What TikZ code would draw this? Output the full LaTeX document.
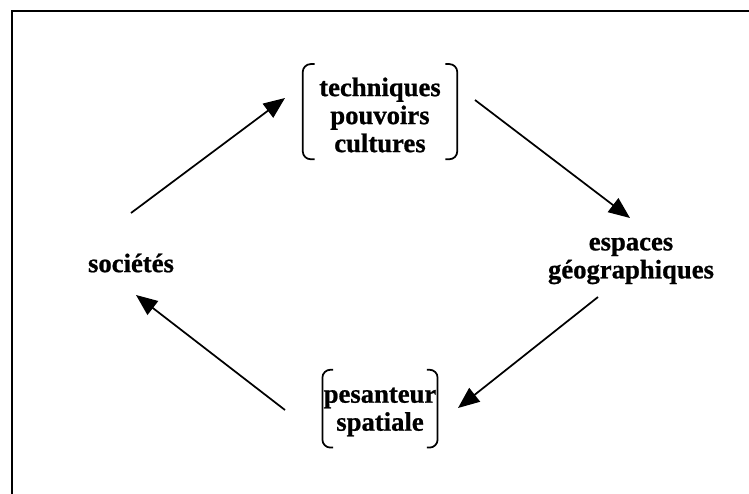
\documentclass[tikz,border=0pt]{standalone}
\usepackage{fontspec}
\setmainfont{Liberation Serif}[BoldFeatures={FakeBold=0.8}]
\usepackage{tikz}
\usetikzlibrary{arrows.meta}

\tikzset{
  terme/.style={font=\bfseries\fontsize{20}{21}\selectfont, align=center, inner sep=0pt},
  fleche/.style={line width=1.3pt, -{Triangle[length=16pt,width=13pt]}},
  crochet/.style={line width=1.3pt, rounded corners=6pt}
}

\begin{document}
\begin{tikzpicture}[x=0.75pt,y=-0.75pt]
            \useasboundingbox (0,0) rectangle (749,493);
            \draw [line width=1.5pt] (12,500)--(12,11)--(760,11);
            % les termes
            \node[terme, minimum width=115.5pt, minimum height=71pt] (tech) at (380,115) {techniques\\pouvoirs\\cultures};
            \node[terme] (esp) at (631,261) {espaces\\géographiques};
            \node[terme, minimum width=86pt, minimum height=58pt] (pes) at (380,412) {pesanteur\\spatiale};
            \node[terme] (soc) at (131,263) {sociétés};
            % crochets (un peu plus haut que le texte)
            \draw [crochet] ([shift={(9pt,2.5pt)}]tech.north west)--([yshift=2.5pt]tech.north west)--([yshift=2.5pt]tech.south west)--([shift={(9pt,2.5pt)}]tech.south west);
            \draw [crochet] ([shift={(-9pt,2.5pt)}]tech.north east)--([yshift=2.5pt]tech.north east)--([yshift=2.5pt]tech.south east)--([shift={(-9pt,2.5pt)}]tech.south east);
            \draw [crochet] ([shift={(8pt,2.5pt)}]pes.north west)--([yshift=2.5pt]pes.north west)--([yshift=2.5pt]pes.south west)--([shift={(8pt,2.5pt)}]pes.south west);
            \draw [crochet] ([shift={(-8pt,2.5pt)}]pes.north east)--([yshift=2.5pt]pes.north east)--([yshift=2.5pt]pes.south east)--([shift={(-8pt,2.5pt)}]pes.south east);
            % fleches
            \coordinate (soc-a) at (131,213);
            \coordinate (tech-a) at (285,98);
            \coordinate (tech-b) at (475,100);
            \coordinate (esp-a) at (630,218);
            \coordinate (esp-b) at (598,297);
            \coordinate (pes-a) at (458,408);
            \coordinate (pes-b) at (285,410);
            \coordinate (soc-b) at (136,295);
            \draw [fleche] (soc-a)--(tech-a);
            \draw [fleche] (tech-b)--(esp-a);
            \draw [fleche] (esp-b)--(pes-a);
            \draw [fleche] (pes-b)--(soc-b);
        \end{tikzpicture}
\end{document}
